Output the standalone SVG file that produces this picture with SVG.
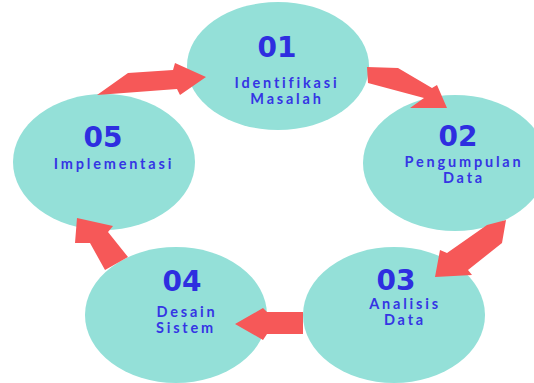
<svg xmlns="http://www.w3.org/2000/svg" width="534" height="383" viewBox="0 0 534 383">
<style>
.node{fill:#94e0d8}
.arrow{fill:#f65858}
.num{font-family:"DejaVu Sans",sans-serif;font-weight:bold;font-size:28px;fill:#2e2ee0;text-anchor:middle}
.lbl{font-family:Lato,"Liberation Sans",sans-serif;font-weight:bold;font-size:14.5px;fill:#3535e4;text-anchor:middle;letter-spacing:2.8px}
</style>
<rect width="534" height="383" fill="#ffffff"/>
<g id="n1"><ellipse class="node" cx="278" cy="66" rx="91" ry="64"/><text class="num" x="277" y="57">01</text><text class="lbl" x="287" y="88">Identifikasi</text><text class="lbl" x="287" y="104">Masalah</text></g>
<g id="n2"><ellipse class="node" cx="455" cy="163" rx="92" ry="68"/><text class="num" x="458" y="146">02</text><text class="lbl" x="464" y="167">Pengumpulan</text><text class="lbl" x="464" y="183">Data</text></g>
<g id="n3"><ellipse class="node" cx="394" cy="315" rx="91" ry="68"/><text class="num" x="396" y="290">03</text><text class="lbl" x="405" y="309">Analisis</text><text class="lbl" x="405" y="325">Data</text></g>
<g id="n4"><ellipse class="node" cx="176" cy="315" rx="91" ry="68"/><text class="num" x="182" y="291">04</text><text class="lbl" x="187" y="317">Desain</text><text class="lbl" x="186" y="333">Sistem</text></g>
<g id="n5"><ellipse class="node" cx="104" cy="162" rx="91" ry="68"/><text class="num" x="103" y="147">05</text><text class="lbl" x="114" y="169">Implementasi</text></g>
<g id="connectors">
<polygon class="arrow" points="97,95 128,73 173,70 175,63 206,77 180,95 177,89"/>
<polygon class="arrow" points="367,67 398,68 432,88 437,85 447,108 410,108 424,98 368,83"/>
<polygon class="arrow" points="440,250 447,253 487,225 506,220 502,243 468,270 472,275 435,277"/>
<polygon class="arrow" points="303,312 267,312 263,308 235,324 263,340 267,334 303,334"/>
<polygon class="arrow" points="77,218 113,226 108,232 128,257 105,270 90,243 75,243"/>
</g>
</svg>
